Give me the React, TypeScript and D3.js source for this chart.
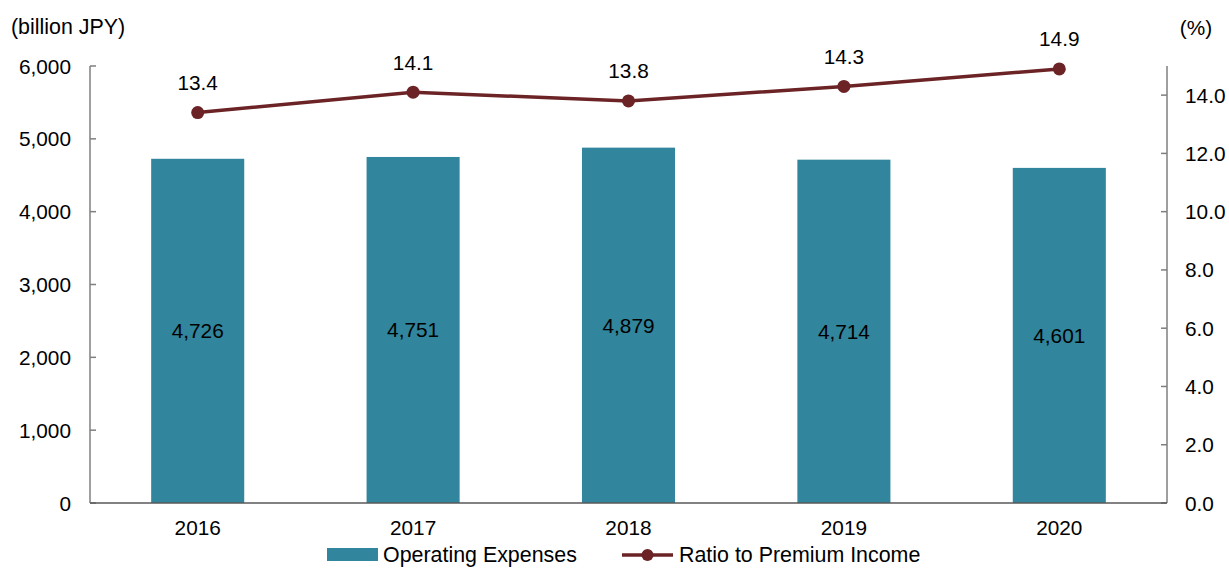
import React from "react";
import * as d3 from "d3";

const years = ["2016", "2017", "2018", "2019", "2020"];
const expenses = [4726, 4751, 4879, 4714, 4601];
const ratios = [13.4, 14.1, 13.8, 14.3, 14.9];
const leftTicks = [0, 1000, 2000, 3000, 4000, 5000, 6000];
const rightTicks = [0, 2, 4, 6, 8, 10, 12, 14];

const W = 1229;
const H = 568;
const M = { left: 90, right: 1167, top: 66, bottom: 503 };
const BAR = "#31859c";
const LINE = "#6c2326";
const AXIS = "#7f7f7f";
const FONT = "'Liberation Sans', Arial, sans-serif";
const FS = 20.8;
const LFS = 21.4;
const LEG_Y = 555;

export default function App() {
  const x = d3.scaleBand<string>().domain(years).range([M.left, M.right]).paddingInner(0.568).paddingOuter(0.284);
  const yL = d3.scaleLinear().domain([0, 6000]).range([M.bottom, M.top]);
  const yR = d3.scaleLinear().domain([0, 15]).range([M.bottom, M.top]);
  const cx = (y: string) => (x(y) as number) + x.bandwidth() / 2;
  const line = d3
    .line<number>()
    .x((_, i) => cx(years[i]))
    .y((d) => yR(d));
  const fmt = d3.format(",");

  return (
    <svg
      width={W}
      height={H}
      style={{ position: "absolute", left: 0, top: 0, background: "#fff" }}
      fontFamily={FONT}
      fontSize={FS}
    >
      {/* bars */}
      {expenses.map((v, i) => (
        <rect key={years[i]} x={x(years[i])} y={yL(v)} width={x.bandwidth()} height={yL(0) - yL(v)} fill={BAR} />
      ))}
      {expenses.map((v, i) => (
        <text key={"bl" + i} x={cx(years[i])} y={(yL(v) + yL(0)) / 2} textAnchor="middle" dominantBaseline="central" fill="#000">
          {fmt(v)}
        </text>
      ))}

      {/* left axis */}
      <line x1={M.left} x2={M.left} y1={M.top} y2={M.bottom} stroke={AXIS} strokeWidth={1.5} />
      {leftTicks.map((t) => (
        <g key={"lt" + t}>
          <line x1={M.left} x2={M.left + 6} y1={yL(t)} y2={yL(t)} stroke={AXIS} strokeWidth={1.5} />
          <text x={71} y={yL(t)} textAnchor="end" dominantBaseline="central" fill="#000">
            {fmt(t)}
          </text>
        </g>
      ))}
      <text x={11} y={27} dominantBaseline="central" fill="#000" fontSize={LFS}>(billion JPY)</text>

      {/* right axis */}
      <line x1={M.right} x2={M.right} y1={M.top} y2={M.bottom} stroke={AXIS} strokeWidth={1.5} />
      {rightTicks.map((t) => (
        <g key={"rt" + t}>
          <line x1={M.right - 6} x2={M.right} y1={yR(t)} y2={yR(t)} stroke={AXIS} strokeWidth={1.5} />
          <text x={1185} y={yR(t)} textAnchor="start" dominantBaseline="central" fill="#000">
            {t.toFixed(1)}
          </text>
        </g>
      ))}
      <text x={1196} y={27} textAnchor="middle" dominantBaseline="central" fill="#000">(%)</text>

      {/* x axis */}
      <line x1={M.left} x2={M.right} y1={M.bottom} y2={M.bottom} stroke="#595959" strokeWidth={1.5} />
      {years.map((y) => (
        <text key={"xl" + y} x={cx(y)} y={527} textAnchor="middle" dominantBaseline="central" fill="#000">
          {y}
        </text>
      ))}

      {/* line */}
      <path d={line(ratios) || ""} fill="none" stroke={LINE} strokeWidth={3.5} />
      {ratios.map((v, i) => (
        <circle key={"pt" + i} cx={cx(years[i])} cy={yR(v)} r={6.5} fill={LINE} />
      ))}
      {ratios.map((v, i) => (
        <text key={"ll" + i} x={cx(years[i])} y={yR(v) - 30} textAnchor="middle" dominantBaseline="central" fill="#000">
          {v.toFixed(1)}
        </text>
      ))}

      {/* legend */}
      <rect x={327} y={LEG_Y - 7} width={51} height={13} fill={BAR} />
      <text x={383} y={LEG_Y} dominantBaseline="central" fill="#000" fontSize={LFS}>Operating Expenses</text>
      <line x1={622} x2={673} y1={LEG_Y} y2={LEG_Y} stroke={LINE} strokeWidth={3.5} />
      <circle cx={647.5} cy={LEG_Y} r={6} fill={LINE} />
      <text x={679} y={LEG_Y} dominantBaseline="central" fill="#000" fontSize={LFS}>Ratio to Premium Income</text>
    </svg>
  );
}
